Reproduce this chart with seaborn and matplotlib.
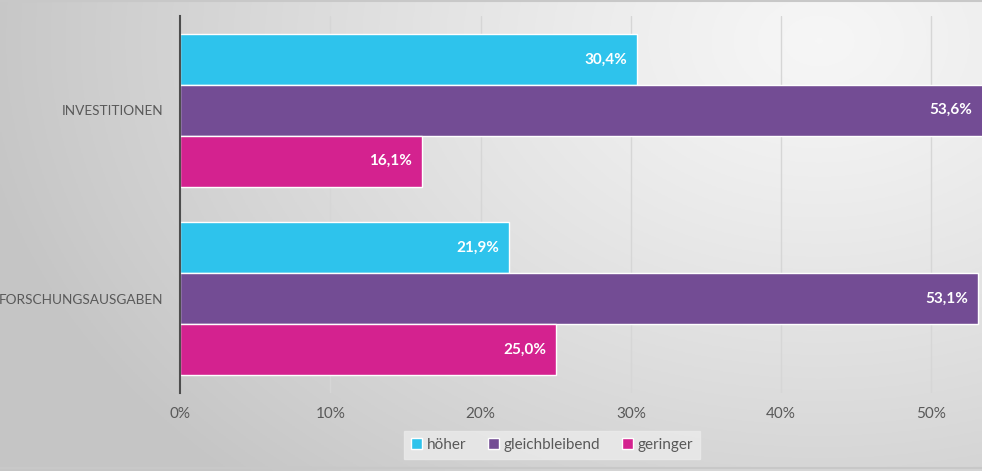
import matplotlib
matplotlib.use('Agg')
import matplotlib.pyplot as plt
import seaborn as sns
import pandas as pd
import numpy as np
from matplotlib.patches import Patch

# Daten
kategorien = ['INVESTITIONEN', 'FORSCHUNGSAUSGABEN']
serien = ['höher', 'gleichbleibend', 'geringer']
hoeher = [30.4, 21.9]
gleichbleibend = [53.6, 53.1]
geringer = [16.1, 25.0]
farben = ['#2EC3EC', '#734C94', '#D4228F']

df = pd.DataFrame({
    'kategorie': kategorien * 3,
    'serie': [s for s in serien for _ in kategorien],
    'wert': hoeher + gleichbleibend + geringer,
})

sns.set_theme(style='white')
plt.rcParams['font.family'] = ['Lato', 'DejaVu Sans']

fig = plt.figure(figsize=(9.82, 4.71), dpi=100)

# Hintergrund mit Verlauf
bg = fig.add_axes([0, 0, 1, 1])
xx, yy = np.meshgrid(np.linspace(0, 982, 400), np.linspace(0, 471, 200))
d = np.sqrt(((xx - 820) / 1.0) ** 2 + ((yy - 40) * 1.4) ** 2)
grau = 0.965 - 0.19 * np.clip(d / 850, 0, 1) ** 1.2
bg.imshow(np.dstack([grau] * 3), extent=[0, 982, 471, 0], aspect='auto')
bg.axhline(1, color='#c8c8c8', lw=1.5)
bg.axhline(468, color='#c8c8c8', lw=1.5)
bg.set_xlim(0, 982)
bg.set_ylim(471, 0)
bg.axis('off')

xmax = 53.36
ax = fig.add_axes([180 / 982, 1 - 393 / 471, 1 - 180 / 982, (393 - 16) / 471])
ax.patch.set_alpha(0)
sns.barplot(data=df, x='wert', y='kategorie', hue='serie', hue_order=serien,
            palette=farben, orient='h', width=0.81, edgecolor='white',
            linewidth=1.0, saturation=1, legend=False, ax=ax)

# Beschriftungen innen am Balkenende
for cont in ax.containers:
    for bar, v in zip(cont, cont.datavalues):
        yc = bar.get_y() + bar.get_height() / 2
        ax.annotate(f'{v:.1f}%'.replace('.', ','), (min(v, xmax), yc),
                    xytext=(-7, 0), textcoords='offset points', ha='right',
                    va='center', color='white', fontsize=11, fontweight='bold')

ax.set_xlim(0, xmax)
ax.set_ylim(1.5, -0.5)
ax.set_xticks(range(0, 60, 10))
ax.set_xticklabels([f'{t}%' for t in range(0, 60, 10)], color='#595959', fontsize=11)
ax.tick_params(axis='x', length=0, pad=10)
ax.tick_params(axis='y', length=0, pad=12, labelcolor='#595959', labelsize=9.8)
ax.set_xlabel('')
ax.set_ylabel('')
ax.grid(axis='x', color='#d6d6d6', lw=1)
ax.set_axisbelow(True)
for s in ['top', 'right', 'bottom']:
    ax.spines[s].set_visible(False)
ax.spines['left'].set_color('#4d4d4d')
ax.spines['left'].set_linewidth(1.5)

handles = [Patch(facecolor=c, label=s) for s, c in zip(serien, farben)]
leg = fig.legend(handles=handles, loc='center', bbox_to_anchor=(552 / 982, 1 - 445 / 471),
                 ncol=3, frameon=True, fontsize=11, handlelength=0.75, handleheight=0.75,
                 handletextpad=0.3, columnspacing=1.4, borderpad=0.45, fancybox=False)
leg.get_frame().set_facecolor('#ebebeb')
leg.get_frame().set_edgecolor('#ebebeb')
for t in leg.get_texts():
    t.set_color('#595959')

fig.savefig('out.png', dpi=100)
